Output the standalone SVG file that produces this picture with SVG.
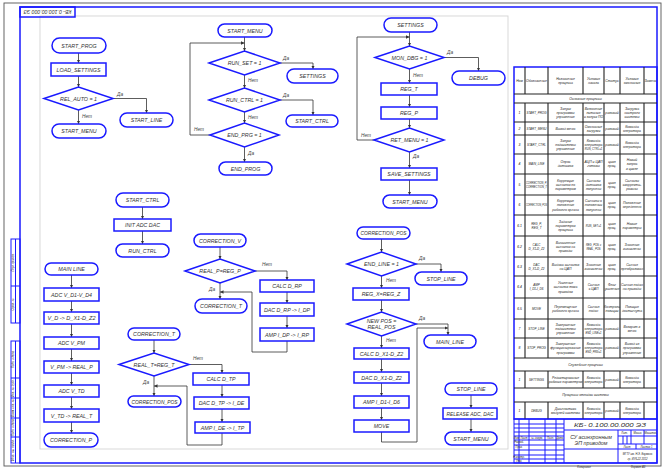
<svg xmlns="http://www.w3.org/2000/svg" width="666" height="469" viewBox="0 0 666 469">
<style>
.tm,.bx,.dm{fill:#fff;stroke:#1a1aff;stroke-width:1.5}
.cn{fill:none;stroke:#333;stroke-width:0.8}
.tx{font-family:"Liberation Sans",Arial,sans-serif;font-style:italic;font-size:5.3px;fill:#333;text-anchor:middle}
.lb{font-family:"Liberation Sans",Arial,sans-serif;font-style:italic;font-size:4.8px;fill:#444}
.tt{font-family:"Liberation Sans",Arial,sans-serif;font-style:italic;font-size:3.4px;fill:#222;text-anchor:middle}
.t2{font-family:"Liberation Sans",Arial,sans-serif;font-style:italic;font-size:3px;fill:#222;text-anchor:middle}
.ts{font-family:"Liberation Sans",Arial,sans-serif;font-style:italic;font-size:2.7px;fill:#222;text-anchor:middle}
.fr{fill:none;stroke:#1a1aff;stroke-width:1.5}
.fb{fill:none;stroke:#1a1aff;stroke-width:1}
.gl{fill:none;stroke:#222;stroke-width:1.1}
</style>
<defs>
<marker id="a" viewBox="0 0 6 6" refX="6" refY="3" markerWidth="3.5" markerHeight="3.5" orient="auto" markerUnits="userSpaceOnUse"><path d="M0,0L6,3L0,6z" fill="#333"/></marker>
</defs>
<rect width="666" height="469" fill="#fff"/>
<!-- frames -->
<rect x="4" y="3" width="657" height="463" fill="none" stroke="#555" stroke-width="0.9"/>
<rect x="40" y="16" width="468" height="433" fill="none" stroke="#d4d4d4" stroke-width="0.9"/>
<rect x="20" y="7" width="637" height="456" class="fr"/>
<g id="doc-label">
<rect x="20" y="7" width="55" height="10" class="fr"/>
<text class="tx" x="47.5" y="14" transform="rotate(180 47.5 12)" textLength="48" lengthAdjust="spacingAndGlyphs">КБ- 0.100.00.000 ЭЗ</text>
</g>
<g id="margin">
<rect x="11" y="239" width="9" height="84" class="fb"/>
<line x1="15.5" y1="239" x2="15.5" y2="323" class="fb"/>
<line x1="11" y1="286" x2="20" y2="286" class="fb"/>
<rect x="11" y="341" width="9" height="122" class="fb"/>
<line x1="15.5" y1="341" x2="15.5" y2="463" class="fb"/>
<path d="M11,378H20M11,398H20M11,418H20M11,437H20" class="fb"/>
<text class="ts" transform="translate(14.3 262.5) rotate(-90)">Перв. примен.</text>
<text class="ts" transform="translate(14.3 304.5) rotate(-90)">Справ. №</text>
<text class="ts" transform="translate(14.3 359.5) rotate(-90)">Подп. и дата</text>
<text class="ts" transform="translate(14.3 388) rotate(-90)" textLength="18" lengthAdjust="spacingAndGlyphs">Инв. № дубл.</text>
<text class="ts" transform="translate(14.3 408) rotate(-90)" textLength="18" lengthAdjust="spacingAndGlyphs">Взам. инв. №</text>
<text class="ts" transform="translate(14.3 427.5) rotate(-90)" textLength="17" lengthAdjust="spacingAndGlyphs">Подп. и дата</text>
<text class="ts" transform="translate(14.3 450) rotate(-90)" textLength="22" lengthAdjust="spacingAndGlyphs">Инв. № подл.</text>
</g>

<!-- connectors -->
<g id="connectors" class="cn" marker-end="url(#a)">
<path d="M78.5,53V63"/><path d="M78.5,76V87"/><path d="M113,98.5H146.5V113"/><path d="M78.5,110V124"/>
<path d="M244.5,37V51"/><path d="M280,63H313V69"/><path d="M244.5,75V88"/><path d="M280,100H313V115"/><path d="M244.5,112V123"/><path d="M244.5,147V162"/><path d="M210,135H190V43H244.5"/>
<path d="M409.5,32V46"/><path d="M444,57.5H478.5V71"/><path d="M409.5,69V83"/><path d="M409.5,95V107"/><path d="M409.5,119V128"/><path d="M409.5,152V168"/><path d="M409.5,180V195"/><path d="M374,140H357V37H409.5"/>
<path d="M142.5,207V219"/><path d="M142.5,231V244"/>
<path d="M220,247V259"/><path d="M255,271H287V280"/><path d="M287,292V303"/><path d="M287,316V328"/><path d="M287,341V352H252V292H220"/><path d="M220,283V299"/>
<path d="M154,340V353"/><path d="M189,364.5H222V373"/><path d="M222,385V397"/><path d="M222,409V422"/><path d="M222,433V445H187V386H154"/><path d="M154,376V396"/>
<path d="M71.5,275V288"/><path d="M71.5,301V312"/><path d="M71.5,324V337"/><path d="M71.5,349V361"/><path d="M71.5,373V385"/><path d="M71.5,397V409"/><path d="M71.5,422V433"/>
<path d="M381.5,239V252"/><path d="M416,264H441V272"/><path d="M381.5,276V288"/><path d="M381.5,300V312"/><path d="M416,324H448V335"/><path d="M381.5,336V348"/><path d="M381.5,359V372"/><path d="M381.5,383V396"/><path d="M381.5,408V420"/><path d="M381.5,432V442H417V328H448"/>
<path d="M471,395V408"/><path d="M471,419V432"/>
</g>
<g id="connector-labels" class="lb">
<text x="117" y="96">Да</text><text x="82" y="118">Нет</text>
<text x="283" y="60">Да</text><text x="248" y="82">Нет</text><text x="283" y="97">Да</text><text x="248" y="119">Нет</text><text x="194" y="131">Нет</text><text x="248" y="155">Да</text>
<text x="447" y="54">Да</text><text x="413" y="77">Нет</text><text x="361" y="137">Нет</text><text x="413" y="158">Да</text>
<text x="262" y="266">Нет</text><text x="209" y="291">Да</text>
<text x="193" y="360">Нет</text><text x="143" y="384">Да</text>
<text x="419" y="260">Да</text><text x="386" y="282">Нет</text><text x="419" y="320">Да</text><text x="386" y="342">Нет</text>
</g>

<!-- START_PROG chart -->
<g id="start-prog"><rect class="tm" x="52" y="38" width="54" height="15" rx="7.5"/><text class="tx" x="79" y="47.5">START_PROG</text></g>
<g id="load-settings"><rect class="bx" x="51" y="63" width="55" height="13"/><text class="tx" x="78.5" y="71.5">LOAD_SETTINGS</text></g>
<g id="rel-auto"><polygon class="dm" points="44,98.5 78.5,87 113,98.5 78.5,110"/><text class="tx" x="78.5" y="100.5">REL_AUTO = 1</text></g>
<g id="start-line-1"><rect class="tm" x="120" y="113" width="53" height="14" rx="7"/><text class="tx" x="146.5" y="122">START_LINE</text></g>
<g id="start-menu-1"><rect class="tm" x="52" y="124" width="54" height="14" rx="7"/><text class="tx" x="79" y="133">START_MENU</text></g>

<!-- START_MENU chart -->
<g id="start-menu-2"><rect class="tm" x="218" y="24" width="54" height="13" rx="6.5"/><text class="tx" x="245" y="32.5">START_MENU</text></g>
<g id="run-set"><polygon class="dm" points="209,63 244.5,51 280,63 244.5,75"/><text class="tx" x="244.5" y="65">RUN_SET = 1</text></g>
<g id="settings-1"><rect class="tm" x="287" y="69" width="51" height="14" rx="7"/><text class="tx" x="312.5" y="78">SETTINGS</text></g>
<g id="run-ctrl"><polygon class="dm" points="209,100 244.5,88 280,100 244.5,112"/><text class="tx" x="244.5" y="102">RUN_CTRL = 1</text></g>
<g id="start-ctrl-1"><rect class="tm" x="286" y="115" width="52" height="12" rx="6"/><text class="tx" x="312" y="123">START_CTRL</text></g>
<g id="end-prg"><polygon class="dm" points="210,135 244.5,123 279,135 244.5,147"/><text class="tx" x="244.5" y="137">END_PRG = 1</text></g>
<g id="end-prog"><rect class="tm" x="219" y="162" width="53" height="13" rx="6.5"/><text class="tx" x="245.5" y="170.5">END_PROG</text></g>

<!-- SETTINGS chart -->
<g id="settings-2"><rect class="tm" x="384" y="18" width="53" height="14" rx="7"/><text class="tx" x="410.5" y="27">SETTINGS</text></g>
<g id="mon-dbg"><polygon class="dm" points="375,57.5 409.5,46 444,57.5 409.5,69"/><text class="tx" x="409.5" y="59.5">MON_DBG = 1</text></g>
<g id="debug"><rect class="tm" x="452" y="71" width="53" height="14" rx="7"/><text class="tx" x="478.5" y="80">DEBUG</text></g>
<g id="reg-t"><rect class="bx" x="381" y="83" width="56" height="12"/><text class="tx" x="409" y="91">REG_T</text></g>
<g id="reg-p"><rect class="bx" x="381" y="107" width="56" height="12"/><text class="tx" x="409" y="115">REG_P</text></g>
<g id="ret-menu"><polygon class="dm" points="374,140 409.5,128 444,140 409.5,152"/><text class="tx" x="409.5" y="142">RET_MENU = 1</text></g>
<g id="save-settings"><rect class="bx" x="381" y="168" width="56" height="12"/><text class="tx" x="409" y="176">SAVE_SETTINGS</text></g>
<g id="start-menu-3"><rect class="tm" x="383" y="195" width="54" height="13" rx="6.5"/><text class="tx" x="410" y="203.5">START_MENU</text></g>

<!-- START_CTRL chart -->
<g id="start-ctrl-2"><rect class="tm" x="116" y="193" width="53" height="14" rx="7"/><text class="tx" x="142.5" y="202">START_CTRL</text></g>
<g id="init-adc-dac"><rect class="bx" x="114" y="219" width="57" height="12"/><text class="tx" x="142.5" y="227">INIT ADC DAC</text></g>
<g id="run-ctrl-2"><rect class="tm" x="116" y="244" width="53" height="13" rx="6.5"/><text class="tx" x="142.5" y="252.5">RUN_CTRL</text></g>

<!-- CORRECTION_V chart -->
<g id="correction-v"><rect class="tm" x="194" y="234" width="52" height="13" rx="6.5"/><text class="tx" x="220" y="242.5">CORRECTION_V</text></g>
<g id="real-p"><polygon class="dm" points="185,271 220,259 255,271 220,283"/><text class="tx" x="220" y="273">REAL_P=REG_P</text></g>
<g id="calc-d-rp"><rect class="bx" x="260" y="280" width="54" height="12"/><text class="tx" x="287" y="288">CALC D_RP</text></g>
<g id="dac-d-rp"><rect class="bx" x="260" y="303" width="54" height="13"/><text class="tx" x="287" y="311.5">DAC D_RP -&gt; I_DP</text></g>
<g id="amp-i-dp"><rect class="bx" x="260" y="328" width="54" height="13"/><text class="tx" x="287" y="336.5">AMP I_DP -&gt; I_RP</text></g>
<g id="correction-t-1"><rect class="tm" x="195" y="299" width="52" height="14" rx="7"/><text class="tx" x="221" y="308">CORRECTION_T</text></g>

<!-- CORRECTION_T chart -->
<g id="correction-t-2"><rect class="tm" x="128" y="328" width="52" height="12" rx="6"/><text class="tx" x="154" y="336">CORRECTION_T</text></g>
<g id="real-t"><polygon class="dm" points="119,364.5 154,353 189,364.5 154,376"/><text class="tx" x="154" y="366.5">REAL_T=REG_T</text></g>
<g id="calc-d-tp"><rect class="bx" x="193" y="373" width="56" height="12"/><text class="tx" x="221" y="381">CALC D_TP</text></g>
<g id="dac-d-tp"><rect class="bx" x="194" y="397" width="55" height="12"/><text class="tx" x="221.5" y="405">DAC D_TP -&gt; I_DE</text></g>
<g id="amp-i-de"><rect class="bx" x="195" y="422" width="55" height="11"/><text class="tx" x="222.5" y="429.5">AMP I_DE -&gt; I_TP</text></g>
<g id="correction-pos-1"><rect class="tm" x="128" y="396" width="53" height="11" rx="5.5"/><text class="tx" x="154.5" y="403.5" textLength="46" lengthAdjust="spacingAndGlyphs">CORRECTION_POS</text></g>

<!-- MAIN LINE chart -->
<g id="main-line-1"><rect class="tm" x="45" y="263" width="53" height="12" rx="6"/><text class="tx" x="71.5" y="271">MAIN LINE</text></g>
<g id="adc-v-d"><rect class="bx" x="44" y="288" width="55" height="13"/><text class="tx" x="71.5" y="296.5">ADC V_D1-V_D4</text></g>
<g id="v-d"><rect class="bx" x="44" y="312" width="55" height="12"/><text class="tx" x="71.5" y="320" textLength="48" lengthAdjust="spacingAndGlyphs">V_D -&gt; D_X1-D_Z2</text></g>
<g id="adc-v-pm"><rect class="bx" x="44" y="337" width="55" height="12"/><text class="tx" x="71.5" y="345">ADC V_PM</text></g>
<g id="v-pm"><rect class="bx" x="44" y="361" width="55" height="12"/><text class="tx" x="71.5" y="369">V_PM -&gt; REAL_P</text></g>
<g id="adc-v-td"><rect class="bx" x="44" y="385" width="55" height="12"/><text class="tx" x="71.5" y="393">ADC V_TD</text></g>
<g id="v-td"><rect class="bx" x="44" y="409" width="55" height="13"/><text class="tx" x="71.5" y="417.5">V_TD -&gt; REAL_T</text></g>
<g id="correction-p"><rect class="tm" x="44" y="433" width="54" height="14" rx="7"/><text class="tx" x="71" y="442">CORRECTION_P</text></g>

<!-- CORRECTION_POS chart -->
<g id="correction-pos-2"><rect class="tm" x="357" y="227" width="53" height="12" rx="6"/><text class="tx" x="383.5" y="235" textLength="46" lengthAdjust="spacingAndGlyphs">CORRECTION_POS</text></g>
<g id="end-line"><polygon class="dm" points="347,264 381.5,252 416,264 381.5,276"/><text class="tx" x="381.5" y="266">END_LINE = 1</text></g>
<g id="stop-line-1"><rect class="tm" x="415" y="272" width="52" height="13" rx="6.5"/><text class="tx" x="441" y="280.5">STOP_LINE</text></g>
<g id="reg-x"><rect class="bx" x="353" y="288" width="56" height="12"/><text class="tx" x="381" y="296">REG_X=REG_Z</text></g>
<g id="new-pos"><polygon class="dm" points="347,324 381.5,312 416,324 381.5,336"/><text class="tx" x="381.5" y="322.5">NEW POS =</text><text class="tx" x="381.5" y="329">REAL_POS</text></g>
<g id="main-line-2"><rect class="tm" x="424" y="335" width="52" height="13" rx="6.5"/><text class="tx" x="450" y="343.5">MAIN_LINE</text></g>
<g id="calc-d-x"><rect class="bx" x="354" y="348" width="55" height="11"/><text class="tx" x="381.5" y="355.5">CALC D_X1-D_Z2</text></g>
<g id="dac-d-x"><rect class="bx" x="354" y="372" width="55" height="11"/><text class="tx" x="381.5" y="379.5">DAC D_X1-D_Z2</text></g>
<g id="amp-i-d"><rect class="bx" x="354" y="396" width="55" height="12"/><text class="tx" x="381.5" y="404">AMP I_D1-I_D6</text></g>
<g id="move"><rect class="bx" x="354" y="420" width="55" height="12"/><text class="tx" x="381.5" y="428">MOVE</text></g>

<!-- STOP_LINE chart -->
<g id="stop-line-2"><rect class="tm" x="445" y="383" width="52" height="12" rx="6"/><text class="tx" x="471" y="391">STOP_LINE</text></g>
<g id="release"><rect class="bx" x="443" y="408" width="54" height="11"/><text class="tx" x="470" y="415.5" textLength="47" lengthAdjust="spacingAndGlyphs">RELEASE ADC, DAC</text></g>
<g id="start-menu-4"><rect class="tm" x="445" y="432" width="52" height="13" rx="6.5"/><text class="tx" x="471" y="440.5">START_MENU</text></g>

<!-- process table -->
<g id="table">
<rect x="514" y="67" width="143" height="352" class="fr"/>
<path class="gl" d="M514,94H657M514,103H657M514,122H657M514,135H657M514,154H657M514,174H657M514,195H657M514,215H657M514,236H657M514,257H657M514,276H657M514,298H657M514,319H657M514,338H657M514,358H657M514,371H657M514,388H657M514,402H657"/>
<path class="gl" d="M525,67V94M548,67V94M583,67V94M604,67V94M620,67V94M644,67V94M525,103V358M548,103V358M583,103V358M604,103V358M620,103V358M644,103V358M525,371V388M548,371V388M583,371V388M604,371V388M620,371V388M644,371V388M525,402V419M548,402V419M583,402V419M604,402V419M620,402V419M644,402V419"/>
<text class="tt" x="519.5" y="81.8">Ном</text>
<text class="tt" x="536.5" y="81.8">Обозначение</text>
<text class="tt" y="79.7"><tspan x="565.5">Назначение</tspan><tspan x="565.5" dy="4.2">процесса</tspan></text>
<text class="tt" y="79.7"><tspan x="593.5">Условия</tspan><tspan x="593.5" dy="4.2">начала</tspan></text>
<text class="tt" x="612" y="81.8">Статус</text>
<text class="tt" y="79.7"><tspan x="632">Условия</tspan><tspan x="632" dy="4.2">окончания</tspan></text>
<text class="tt" x="650.5" y="81.8">Замена</text>
<text class="tt" x="585.5" y="99.8">Основные процессы</text>

<text class="tt" x="519.5" y="113.8">1</text><text class="t2" x="536.5" y="113.8">START_PROG</text>
<text class="tt" y="109.6"><tspan x="565.5">Запуск</tspan><tspan x="565.5" dy="4.2">программы</tspan><tspan x="565.5" dy="4.2">управления</tspan></text>
<text class="tt" y="109.6"><tspan x="593.5">Включение</tspan><tspan x="593.5" dy="4.2">питания</tspan><tspan x="593.5" dy="4.2">и запуск ПО</tspan></text>
<text class="tt" x="612" y="113.8">разовый</text>
<text class="tt" y="109.6"><tspan x="632">Загрузка</tspan><tspan x="632" dy="4.2">настроек</tspan><tspan x="632" dy="4.2">системы</tspan></text>

<text class="tt" x="519.5" y="129.8">2</text><text class="t2" x="536.5" y="129.8">START_MENU</text>
<text class="tt" x="565.5" y="129.8">Вывод меню</text>
<text class="tt" y="127.7"><tspan x="593.5">Окончание</tspan><tspan x="593.5" dy="4.2">загрузки</tspan></text>
<text class="tt" x="612" y="129.8">разовый</text>
<text class="tt" y="127.7"><tspan x="632">Команда</tspan><tspan x="632" dy="4.2">оператора</tspan></text>

<text class="tt" x="519.5" y="145.8">3</text><text class="t2" x="536.5" y="145.8">START_CTRL</text>
<text class="tt" y="141.6"><tspan x="565.5">Запуск</tspan><tspan x="565.5" dy="4.2">подсистемы</tspan><tspan x="565.5" dy="4.2">управления</tspan></text>
<text class="tt" y="141.6"><tspan x="593.5">Команда</tspan><tspan x="593.5" dy="4.2">оператора</tspan></text><text class="ts" x="593.5" y="149.8">RUN_CTRL=1</text>
<text class="tt" x="612" y="145.8">разовый</text>
<text class="tt" y="143.7"><tspan x="632">Команда</tspan><tspan x="632" dy="4.2">оператора</tspan></text>

<text class="tt" x="519.5" y="165.3">4</text><text class="t2" x="536.5" y="165.3">MAIN_LINE</text>
<text class="tt" y="163.2"><tspan x="565.5">Опрос</tspan><tspan x="565.5" dy="4.2">датчиков</tspan></text>
<text class="tt" y="163.2"><tspan x="593.5">АЦП и ЦАП</tspan><tspan x="593.5" dy="4.2">готовы</tspan></text>
<text class="tt" y="163.2"><tspan x="612">цикл</tspan><tspan x="612" dy="4.2">проц.</tspan></text>
<text class="tt" y="161.1"><tspan x="632">Новый</tspan><tspan x="632" dy="4.2">запрос</tspan><tspan x="632" dy="4.2">в цикле</tspan></text>

<text class="tt" x="519.5" y="185.8">5</text>
<text class="t2" x="536.5" y="183.7" textLength="21" lengthAdjust="spacingAndGlyphs">CORRECTION_P,</text>
<text class="t2" x="536.5" y="187.9" textLength="21" lengthAdjust="spacingAndGlyphs">CORRECTION_T</text>
<text class="tt" y="181.6"><tspan x="565.5">Коррекция</tspan><tspan x="565.5" dy="4.2">сигналов по</tspan><tspan x="565.5" dy="4.2">параметрам</tspan></text>
<text class="tt" y="181.6"><tspan x="593.5">Сигналы</tspan><tspan x="593.5" dy="4.2">датчиков</tspan><tspan x="593.5" dy="4.2">получены</tspan></text>
<text class="tt" y="183.7"><tspan x="612">цикл</tspan><tspan x="612" dy="4.2">проц.</tspan></text>
<text class="tt" y="181.6"><tspan x="632">Сигналы</tspan><tspan x="632" dy="4.2">скорректи-</tspan><tspan x="632" dy="4.2">рованы</tspan></text>

<text class="tt" x="519.5" y="206.3">6</text>
<text class="t2" x="536.5" y="206.3" textLength="21" lengthAdjust="spacingAndGlyphs">CORRECTION_POS</text>
<text class="tt" y="202.1"><tspan x="565.5">Коррекция</tspan><tspan x="565.5" dy="4.2">положения</tspan><tspan x="565.5" dy="4.2">рабочего органа</tspan></text>
<text class="tt" y="202.1"><tspan x="593.5">Сигналы о</tspan><tspan x="593.5" dy="4.2">положении</tspan><tspan x="593.5" dy="4.2">получены</tspan></text>
<text class="tt" y="204.2"><tspan x="612">цикл</tspan><tspan x="612" dy="4.2">проц.</tspan></text>
<text class="tt" y="204.2"><tspan x="632">Положение</tspan><tspan x="632" dy="4.2">определено</tspan></text>

<text class="tt" x="519.5" y="226.8">6.1</text>
<text class="t2" y="224.7"><tspan x="536.5">REG_P,</tspan><tspan x="536.5" dy="4.2">REG_T</tspan></text>
<text class="tt" y="222.6"><tspan x="565.5">Задание</tspan><tspan x="565.5" dy="4.2">параметров</tspan><tspan x="565.5" dy="4.2">процесса</tspan></text>
<text class="ts" x="593.5" y="226.8">RUN_SET=1</text>
<text class="tt" y="224.7"><tspan x="612">цикл</tspan><tspan x="612" dy="4.2">проц.</tspan></text>
<text class="tt" y="224.7"><tspan x="632">Новые</tspan><tspan x="632" dy="4.2">параметры</tspan></text>

<text class="tt" x="519.5" y="247.8">6.2</text>
<text class="t2" y="245.7"><tspan x="536.5">CALC</tspan><tspan x="536.5" dy="4.2">D_X1-D_Z2</tspan></text>
<text class="tt" y="243.6"><tspan x="565.5">Вычисление</tspan><tspan x="565.5" dy="4.2">сигналов на</tspan><tspan x="565.5" dy="4.2">приводы</tspan></text>
<text class="ts" y="245.7"><tspan x="593.5">REG_POS ≠</tspan><tspan x="593.5" dy="4.2">REAL_POS</tspan></text>
<text class="tt" y="245.7"><tspan x="612">цикл</tspan><tspan x="612" dy="4.2">проц.</tspan></text>
<text class="tt" y="245.7"><tspan x="632">Значения</tspan><tspan x="632" dy="4.2">вычислены</tspan></text>

<text class="tt" x="519.5" y="267.8">6.3</text>
<text class="t2" y="265.7"><tspan x="536.5">DAC</tspan><tspan x="536.5" dy="4.2">D_X1-D_Z2</tspan></text>
<text class="tt" y="265.7"><tspan x="565.5">Выдача сигналов</tspan><tspan x="565.5" dy="4.2">на ЦАП</tspan></text>
<text class="tt" y="265.7"><tspan x="593.5">Значения</tspan><tspan x="593.5" dy="4.2">вычислены</tspan></text>
<text class="tt" y="265.7"><tspan x="612">цикл</tspan><tspan x="612" dy="4.2">проц.</tspan></text>
<text class="tt" y="265.7"><tspan x="632">Сигнал</tspan><tspan x="632" dy="4.2">преобразован</tspan></text>

<text class="tt" x="519.5" y="288.3">6.4</text>
<text class="t2" y="286.2"><tspan x="536.5">AMP</tspan><tspan x="536.5" dy="4.2">I_D1-I_D6</tspan></text>
<text class="tt" y="284.1"><tspan x="565.5">Усиление</tspan><tspan x="565.5" dy="4.2">сигналов тока</tspan><tspan x="565.5" dy="4.2">приводов</tspan></text>
<text class="tt" y="286.2"><tspan x="593.5">Сигнал</tspan><tspan x="593.5" dy="4.2">с ЦАП</tspan></text>
<text class="tt" y="286.2"><tspan x="612">Флаг</tspan><tspan x="612" dy="4.2">усиления</tspan></text>
<text class="tt" y="286.2"><tspan x="632">Сигнал подан</tspan><tspan x="632" dy="4.2">на приводы</tspan></text>

<text class="tt" x="519.5" y="309.8">6.5</text>
<text class="t2" x="536.5" y="309.8">MOVE</text>
<text class="tt" y="307.7"><tspan x="565.5">Перемещение</tspan><tspan x="565.5" dy="4.2">рабочего органа</tspan></text>
<text class="tt" y="307.7"><tspan x="593.5">Сигнал</tspan><tspan x="593.5" dy="4.2">подан</tspan></text>
<text class="tt" y="307.7"><tspan x="612">Контроль</tspan><tspan x="612" dy="4.2">позиции</tspan></text>
<text class="tt" y="307.7"><tspan x="632">Позиция</tspan><tspan x="632" dy="4.2">достигнута</tspan></text>

<text class="tt" x="519.5" y="329.8">7</text><text class="t2" x="536.5" y="329.8">STOP_LINE</text>
<text class="tt" y="325.6"><tspan x="565.5">Завершение</tspan><tspan x="565.5" dy="4.2">подсистемы</tspan><tspan x="565.5" dy="4.2">управления</tspan></text>
<text class="tt" y="325.6"><tspan x="593.5">Команда</tspan><tspan x="593.5" dy="4.2">оператора</tspan></text><text class="ts" x="593.5" y="333.8">END_LINE=1</text>
<text class="tt" x="612" y="329.8">разовый</text>
<text class="tt" y="327.7"><tspan x="632">Возврат в</tspan><tspan x="632" dy="4.2">меню</tspan></text>

<text class="tt" x="519.5" y="349.3">8</text><text class="t2" x="536.5" y="349.3">STOP_PROG</text>
<text class="tt" y="345.1"><tspan x="565.5">Завершение</tspan><tspan x="565.5" dy="4.2">функционирования</tspan><tspan x="565.5" dy="4.2">программы</tspan></text>
<text class="tt" y="345.1"><tspan x="593.5">Команда</tspan><tspan x="593.5" dy="4.2">оператора</tspan></text><text class="ts" x="593.5" y="353.3">END_PRG=1</text>
<text class="tt" x="612" y="349.3">разовый</text>
<text class="tt" y="345.1"><tspan x="632">Выход из</tspan><tspan x="632" dy="4.2">программы</tspan><tspan x="632" dy="4.2">управления</tspan></text>

<text class="tt" x="585.5" y="365.8">Служебные процессы</text>
<text class="tt" x="519.5" y="380.8">1</text><text class="t2" x="536.5" y="380.8">SETTINGS</text>
<text class="tt" y="378.7"><tspan x="565.5">Редактирование</tspan><tspan x="565.5" dy="4.2">рабочих параметров</tspan></text>
<text class="tt" y="378.7"><tspan x="593.5">Команда</tspan><tspan x="593.5" dy="4.2">оператора</tspan></text>
<text class="tt" x="612" y="380.8">разовый</text>
<text class="tt" y="378.7"><tspan x="632">Команда</tspan><tspan x="632" dy="4.2">оператора</tspan></text>

<text class="tt" x="585.5" y="396.3">Процессы отладки системы</text>
<text class="tt" x="519.5" y="411.8">1</text><text class="t2" x="536.5" y="411.8">DEBUG</text>
<text class="tt" y="409.7"><tspan x="565.5">Диагностика</tspan><tspan x="565.5" dy="4.2">модулей системы</tspan></text>
<text class="tt" y="409.7"><tspan x="593.5">Команда</tspan><tspan x="593.5" dy="4.2">оператора</tspan></text>
<text class="tt" x="612" y="411.8">разовый</text>
<text class="tt" y="409.7"><tspan x="632">Команда</tspan><tspan x="632" dy="4.2">оператора</tspan></text>
</g>

<!-- title block -->
<g id="title-block">
<rect x="514" y="419" width="143" height="44" class="fb"/>
<path class="fb" d="M519,419V463M529,419V463M545,419V463M556,419V463M564,419V463"/>
<path class="fb" d="M514,424H564M514,428H564M514,432H564M514,436H564M514,440H564M514,445H564M514,450H564M514,455H564M514,459H564"/>
<path class="fb" d="M564,430H657M564,449H657M618,430V463M618,436H657M618,444H657M631,430V444M644,430V444M623,436V444M627,436V444M636,444V449"/>
<text class="tx" x="610" y="427" font-size="6.5" textLength="72" lengthAdjust="spacingAndGlyphs">КБ- 0.100.00.000 ЭЗ</text>
<text class="tx" x="591" y="438.5" font-size="5.2">СУ асинхронным</text>
<text class="tx" x="591" y="445" font-size="5.2">ЭП приводом</text>
<text class="ts" x="516.5" y="438.9" font-size="2.2">Изм</text>
<text class="ts" x="524" y="438.9" font-size="2.2">Лист</text>
<text class="ts" x="537" y="438.9" font-size="2.2">№ докум.</text>
<text class="ts" x="550.5" y="438.9" font-size="2.2">Подп.</text>
<text class="ts" x="560" y="438.9" font-size="2.2">Дата</text>
<text class="ts" x="519" y="443" font-size="2.2">Разраб.</text>
<text class="ts" x="519" y="448" font-size="2.2">Пров.</text>
<text class="ts" x="519" y="457.8" font-size="2.2">Н.контр.</text>
<text class="ts" x="519" y="462" font-size="2.2">Утв.</text>
<text class="ts" x="624.5" y="434">Лит.</text>
<text class="ts" x="637.5" y="434">Масса</text>
<text class="ts" x="650.5" y="434">Масштаб</text>
<text class="ts" x="627" y="447.8">Лист</text>
<text class="ts" x="646.5" y="447.8">Листов 1</text>
<text class="ts" x="637.5" y="455">МГТУ им. Н.Э. Баумана</text>
<text class="ts" x="637.5" y="460">гр. ИУ6-22 2012</text>
<text class="ts" x="584" y="467.6">Копировал</text>
<text class="ts" x="638" y="467.6">Формат A3</text>
</g>
</svg>
